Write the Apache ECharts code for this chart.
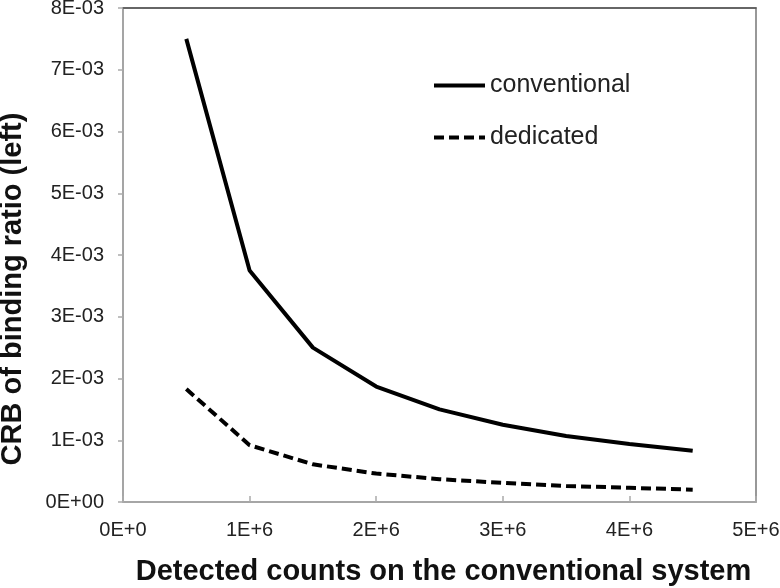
<!DOCTYPE html>
<html><head><meta charset="utf-8">
<script src="https://cdn.jsdelivr.net/npm/echarts@6/dist/echarts.min.js"></script>
<style>html,body{margin:0;padding:0;background:#fff}#c{width:780px;height:588px}</style>
</head><body><div id="c"></div>
<script>
var xValues = [500000, 1000000, 1500000, 2000000, 2500000, 3000000, 3500000, 4000000, 4500000];
var conventional = [0.0075, 0.00375, 0.0025, 0.00187, 0.0015, 0.00125, 0.00107, 0.00094, 0.00083];
var dedicated = [0.00183, 0.00092, 0.00061, 0.00046, 0.00037, 0.00031, 0.00026, 0.00023, 0.00020];
var xTickLabels = ['0E+0', '1E+6', '2E+6', '3E+6', '4E+6', '5E+6'];
var yTickLabels = ['0E+00', '1E-03', '2E-03', '3E-03', '4E-03', '5E-03', '6E-03', '7E-03', '8E-03'];
var seriesNames = ['conventional', 'dedicated'];
var xTitle = 'Detected counts on the conventional system';
var yTitle = 'CRB of binding ratio (left)';

var chart = echarts.init(document.getElementById('c'));
var font = 'Liberation Sans, Arial, sans-serif';
function pairs(ys){ return xValues.map(function(x,i){ return [x, ys[i]]; }); }
chart.setOption({
  animation: false,
  backgroundColor: '#fff',
  grid: { left: 123, right: 24, top: 8, bottom: 86, show: true, borderColor: '#777', borderWidth: 1.5, outerBoundsMode: 'none', containLabel: false },
  legend: {
    orient: 'vertical', left: 432, top: 73, padding: 0, itemWidth: 51, itemHeight: 25, itemGap: 27,
    itemStyle: { opacity: 0 },
    lineStyle: { width: 4 },
    textStyle: { fontFamily: font, fontSize: 25, color: '#222' },
    data: seriesNames
  },
  graphic: [{
    type: 'text', x: 13, y: 289, rotation: Math.PI / 2,
    style: { text: yTitle, fontFamily: font, fontSize: 29, fontWeight: 'bold', fill: '#111', align: 'center', verticalAlign: 'middle' }
  }],
  xAxis: [{
    type: 'value', min: 0, max: 5000000, interval: 1000000,
    name: xTitle, nameLocation: 'middle', nameGap: 55,
    nameTextStyle: { fontFamily: font, fontSize: 29, fontWeight: 'bold', color: '#111', padding: [0, 0, 0, 8] },
    axisLine: { show: true, lineStyle: { color: '#aaa', width: 1.5 } },
    axisTick: { show: true, inside: true, length: 6, lineStyle: { color: '#aaa', width: 1.5 } },
    axisLabel: { margin: 18, fontFamily: font, fontSize: 20, color: '#222',
      formatter: function(v){ return xTickLabels[Math.round(v/1000000)]; } },
    splitLine: { show: false }
  }, {
    type: 'value', position: 'top', min: 0, max: 5000000,
    axisLine: { show: true, lineStyle: { color: '#555', width: 1.5 } },
    axisTick: { show: false }, axisLabel: { show: false }, splitLine: { show: false }
  }],
  yAxis: {
    type: 'value', min: 0, max: 0.008, interval: 0.001,
    axisLine: { show: true, lineStyle: { color: '#aaa', width: 1.5 } },
    axisTick: { show: true, length: 5, lineStyle: { color: '#aaa', width: 1.5 } },
    axisLabel: { margin: 19, fontFamily: font, fontSize: 20, color: '#222',
      formatter: function(v){ return yTickLabels[Math.round(v*1000)]; } },
    splitLine: { show: false }
  },
  series: [{
    name: seriesNames[0], type: 'line', symbol: 'none', data: pairs(conventional),
    lineStyle: { color: '#000', width: 4, type: 'solid' }, itemStyle: { color: '#000' }
  }, {
    name: seriesNames[1], type: 'line', symbol: 'none', data: pairs(dedicated),
    lineStyle: { color: '#000', width: 4, type: [10, 5] }, itemStyle: { color: '#000' }
  }]
});
</script></body></html>
